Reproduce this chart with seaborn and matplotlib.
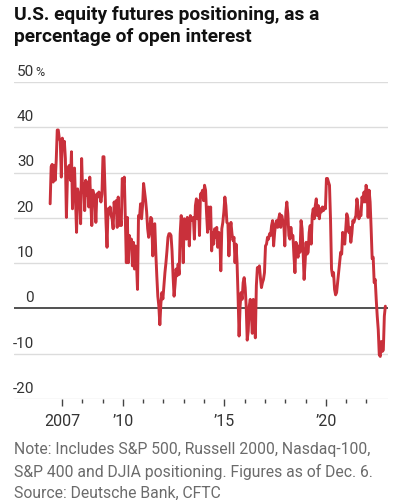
import numpy as np
import pandas as pd
import matplotlib
matplotlib.use("Agg")
import matplotlib.pyplot as plt
import seaborn as sns

# ---- data ----
start_year = 2006.42   # first observation (~June 2006)
end_year = 2022.93     # last observation (Dec. 6, 2022)
positioning = [
    23.1, 31.3, 31.8, 27.9, 31.6, 28.3, 32.7, 39.4, 39.4, 37.6, 36.9, 29.0, 37.6, 36.1, 36.9, 33.1,
    20.1, 28.7, 31.3, 31.6, 28.3, 34.6, 22.0, 30.1, 31.0, 24.2, 16.8, 26.4, 25.3, 24.2, 18.7, 33.1,
    25.7, 27.6, 21.6, 28.3, 25.0, 27.9, 22.4, 29.0, 23.5, 18.3, 26.1, 25.0, 25.0, 19.0, 25.3, 24.6,
    25.7, 25.3, 23.5, 25.3, 33.5, 33.5, 26.4, 19.0, 13.5, 22.0, 20.9, 22.4, 20.5, 19.8, 17.6, 23.5,
    21.3, 23.8, 17.9, 24.6, 18.3, 20.1, 18.3, 28.7, 27.2, 29.0, 20.1, 10.1, 20.1, 10.1, 16.1, 14.6,
    15.3, 9.4, 14.6, 8.7, 13.8, 10.1, 4.2, 20.5, 20.1, 23.1, 19.8, 22.7, 27.6, 25.7, 23.8, 21.3,
    17.6, 15.7, 16.8, 20.1, 19.8, 11.6, 18.3, 18.7, 12.4, 7.2, 2.7, 0.5, -3.6, 1.0, 3.5, 2.1,
    5.0, 7.9, 10.1, 12.7, 15.7, 16.5, 16.5, 16.1, 12.7, 7.2, 2.7, 5.3, 8.7, 7.2, 9.8, 7.5,
    16.5, 20.5, 18.3, 10.1, 19.8, 18.3, 15.3, 20.1, 19.4, 13.8, 20.5, 19.8, 19.4, 20.1, 15.3, 22.7,
    24.2, 19.8, 23.8, 16.1, 25.3, 25.3,
    26.1, 23.8, 27.2, 26.1, 20.9, 16.8, 22.4, 17.6, 22.4, 12.7, 16.8, 14.2, 17.6, 15.7, 17.9, 13.5,
    16.8, 16.1, 8.3, 17.6, 19.0, 21.3, 24.6, 22.7, 19.0, 18.7, 11.6, 17.2, 19.0, 16.5, 15.0, 15.7,
    10.1, 14.2, 10.1, 2.7, -6.1, 0.5, 3.5, 2.0, 5.7, 6.8, 4.6, 0.5, -7.0, -5.0, 0.5, 2.0,
    -1.0, -5.5, 2.0, 0.5, -6.5, 5.0, 9.0, 8.7, 9.4, 6.8, 4.6, 5.7, 6.4, 7.9, 13.8, 14.2,
    15.7, 15.3, 16.5, 16.1, 18.3, 19.4, 13.8, 16.8, 18.7, 19.4, 17.9, 19.8, 20.9, 17.9, 20.5, 19.4,
    19.0, 13.8, 21.3, 23.5, 20.9, 16.1, 15.3, 17.9, 15.7, 16.1, 11.6, 7.9, 14.6, 13.1, 11.3, 13.8,
    12.4, 19.4, 17.6, 12.7, 6.4, 10.1, 14.6, 12.0, 12.4, 16.8, 18.3, 14.2, 20.5, 22.0, 19.8, 22.7,
    24.2, 20.5, 22.7, 19.8, 22.0, 21.3, 22.4, 21.6, 22.4, 22.0, 28.7, 28.7, 27.9, 27.2, 19.8, 8.7,
    7.2, 7.9, 4.2, 3.0, 3.5, 5.7, 7.9, 10.1, 12.4, 12.0, 16.8, 15.3, 14.2, 17.6, 20.9, 20.1,
    16.8, 17.9, 14.6, 16.5, 19.4, 19.0, 19.8, 20.5, 24.2, 22.4, 19.8, 20.9, 20.5, 24.6, 23.5, 25.7,
    23.5, 27.2, 26.1, 20.1, 26.1, 23.5, 17.6, 11.0, 11.3, 5.7, 6.4, 2.0, -1.7,
    -4.7, -10.2, -10.6, -7.3, -9.5, -9.2, -1.7, 0.5,
]
y_ticks = [-20, -10, 0, 10, 20, 30, 40, 50]
y_labels = ["-20", "-10", "0", "10", "20", "30", "40", "50"]
x_major = [2007, 2010, 2015, 2020]
x_major_labels = ["2007", "\u201910", "\u201915", "\u201920"]
x_minor = list(range(2007, 2023))

title = "U.S. equity futures positioning, as a\npercentage of open interest"
note = ("Note: Includes S&P 500, Russell 2000, Nasdaq-100,\n"
        "S&P 400 and DJIA positioning. Figures as of Dec. 6.\n"
        "Source: Deutsche Bank, CFTC")

df = pd.DataFrame({
    "year": np.linspace(start_year, end_year, len(positioning)),
    "value": positioning,
})

# ---- style ----
sns.set_theme(style="white")
plt.rcParams["font.family"] = ["Roboto", "DejaVu Sans"]

W, H = 395, 500
fig = plt.figure(figsize=(W / 100, H / 100), dpi=100)
ax = fig.add_axes([14 / W, 1 - 399 / H, (388 - 14) / W, (399 - 82) / H])

RED = "#c9303b"
GRID = "#dcdcdc"
TXT = "#333333"
NOTE = "#6b6b6b"

for t in y_ticks:
    if t == 0:
        ax.axhline(t, color="#222222", lw=1.1, zorder=2)
    else:
        ax.axhline(t, color=GRID, lw=1.0, zorder=1)

sns.lineplot(data=df, x="year", y="value", ax=ax, color=RED, lw=2.1, zorder=3)

ax.set_xlim(2004.64, 2023.06)
ax.set_ylim(-20, 50)
for s in ax.spines.values():
    s.set_visible(False)
ax.set_xlabel("")
ax.set_ylabel("")
ax.set_yticks([])

ax.set_xticks(x_major)
ax.set_xticklabels(x_major_labels, fontsize=11.5, color=TXT)
ax.set_xticks(x_minor, minor=True)
ax.tick_params(axis="x", which="major", length=5, width=1, color="#444444", pad=6, bottom=True)
ax.tick_params(axis="x", which="minor", length=3, width=1, color="#444444", bottom=True)

# y labels sitting on top of the gridlines
tr = ax.get_yaxis_transform()
for t, lab in zip(y_ticks, y_labels):
    ax.text(20 / (388 - 14), t + 0.7, lab, transform=tr, ha="right", va="bottom",
            fontsize=11, color=TXT)
ax.text(21 / (388 - 14), 50 + 0.7, "%", transform=tr, ha="left", va="bottom",
        fontsize=9, color=TXT)

fig.text(14 / W, 1 - 6 / H, title, ha="left", va="top", fontsize=13.8, fontweight="bold",
         color="#111111", linespacing=1.3)
fig.text(14 / W, 1 - 442 / H, note, ha="left", va="top", fontsize=11.3, color=NOTE,
         linespacing=1.5)

fig.savefig("out.png", dpi=100)
